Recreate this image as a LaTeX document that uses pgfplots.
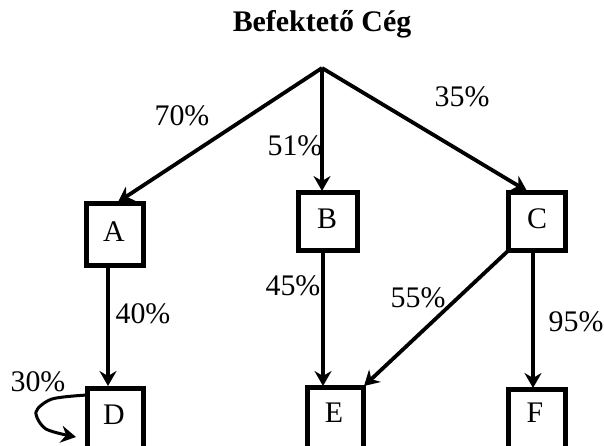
\documentclass[border=0pt]{standalone}
\usepackage{pgfplots}
\pgfplotsset{compat=1.18}
\usepackage{fontspec}
\setmainfont{Liberation Serif}
\usetikzlibrary{arrows.meta}
\begin{document}
\begin{tikzpicture}[
  arr/.style={-{Stealth[length=15bp,width=17bp,inset=5bp]}},
  box/.style={line width=5bp, fill=white, line join=miter},
  lab/.style={font=\fontsize{30}{34}\selectfont, inner sep=0pt},
]
\begin{axis}[
  width=604bp, height=446bp, scale only axis,
  xmin=0, xmax=604, ymin=0, ymax=446, y dir=reverse,
  hide axis, clip=true,
  every axis plot/.append style={black, line width=3.8bp},
]
% arrows from the investor
\addplot[arr] coordinates {(322,68) (118,202)};
\addplot[arr] coordinates {(322,68) (322,191)};
\addplot[arr] coordinates {(322,68) (527,191)};
% second level arrows
\addplot[arr] coordinates {(108,265) (108,386)};
\addplot[arr] coordinates {(323,250) (323,386)};
\addplot[arr] coordinates {(510,249) (364,386)};
\addplot[arr] coordinates {(533,250) (533,388)};
% self loop on D
\addplot[arr, smooth, line width=3bp] coordinates {(87,395) (52,399) (36,412) (46,429) (76,437)};
% boxes
\addplot[box] coordinates {(86,203) (143,203) (143,265) (86,265)} -- cycle;
\addplot[box] coordinates {(298,192) (357,192) (357,250) (298,250)} -- cycle;
\addplot[box] coordinates {(508,192) (565,192) (565,250) (508,250)} -- cycle;
\addplot[box] coordinates {(87,388) (143,388) (143,470) (87,470)} -- cycle;
\addplot[box] coordinates {(307,387) (363,387) (363,470) (307,470)} -- cycle;
\addplot[box] coordinates {(508,389) (565,389) (565,470) (508,470)} -- cycle;
% box letters
\node[lab] at (axis cs:114,232) {A};
\node[lab] at (axis cs:327,219) {B};
\node[lab] at (axis cs:537,219) {C};
\node[lab] at (axis cs:114,415) {D};
\node[lab] at (axis cs:334,413) {E};
\node[lab] at (axis cs:535,413) {F};
% title
\node[inner sep=0pt, font=\fontsize{30}{34}\selectfont\bfseries] at (axis cs:322,24) {Befektető Cég};
% percentages
\node[lab] at (axis cs:182,116) {70\%};
\node[lab] at (axis cs:295,146) {51\%};
\node[lab] at (axis cs:462,97) {35\%};
\node[lab] at (axis cs:293,286) {45\%};
\node[lab] at (axis cs:143,314) {40\%};
\node[lab] at (axis cs:418,298) {55\%};
\node[lab] at (axis cs:576,322) {95\%};
\node[lab] at (axis cs:38,382) {30\%};
\end{axis}
\pgfresetboundingbox
\path (current axis.south west) rectangle (current axis.north east);
\end{tikzpicture}
\end{document}
